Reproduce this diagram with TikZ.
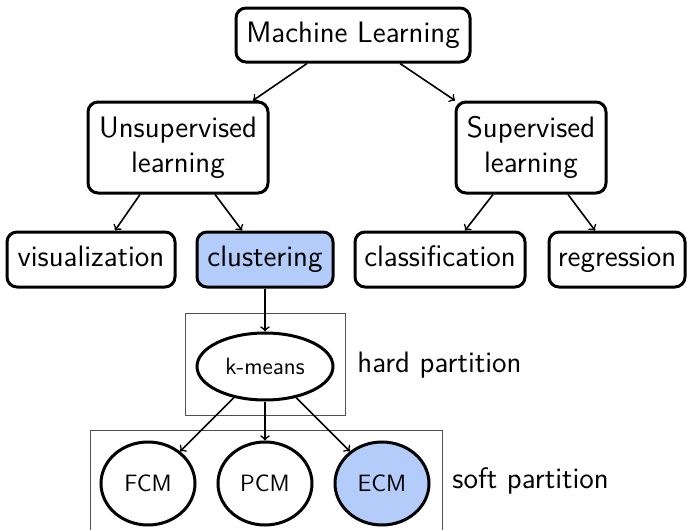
\documentclass[tikz,border=0pt]{standalone}
\usepackage{tikz}
\usetikzlibrary{shapes.geometric,calc}
\definecolor{hlblue}{RGB}{180,204,250}
\definecolor{framegray}{RGB}{80,80,80}
\begin{document}
\begin{tikzpicture}[x=0.5pt,y=-0.5pt,
  every node/.style={font=\sffamily\fontsize{14.8}{17.5}\selectfont},
  box/.style={draw, line width=1.5pt, rounded corners=5pt, align=center, inner sep=0pt},
  oneline/.style={text height=12pt, text depth=5pt},
  oval/.style={draw, ellipse, line width=1.5pt, inner sep=0pt,
    font=\sffamily\fontsize{11.8}{13}\selectfont},
  link/.style={->, line width=0.8pt},
  frame/.style={draw=framegray, line width=0.5pt},
  lbl/.style={anchor=base west, inner sep=0pt}]
\useasboundingbox (0,0) rectangle (687,530);

% grouping frames
\draw[frame] (185,313) rectangle (345,415);
\begin{scope}
  \clip (0,0) rectangle (687,530);
  \draw[frame] (90,430) rectangle (442,560);
\end{scope}

% tree of methods
\node[box, oneline, minimum width=117pt, minimum height=27pt] (ml) at (353,35) {Machine Learning};
\node[box, minimum width=90pt, minimum height=45.5pt] (unsup) at (178,147.5) {Unsupervised\\learning};
\node[box, minimum width=75pt, minimum height=45.5pt] (sup) at (531,147.5) {Supervised\\learning};
\node[box, oneline, minimum width=84pt, minimum height=27.5pt] (vis) at (91,259.5) {visualization};
\node[box, oneline, fill=hlblue, minimum width=68pt, minimum height=27.5pt] (clust) at (265,259.5) {clustering};
\node[box, oneline, minimum width=85pt, minimum height=27.5pt] (class) at (440,259.5) {classification};
\node[box, oneline, minimum width=68pt, minimum height=27.5pt] (reg) at (617,259.5) {regression};

\node[oval, minimum width=68pt, minimum height=33.5pt] (km) at (265,366.5) {k-means};
\node[oval, minimum width=47pt, minimum height=41.5pt] (fcm) at (148,483.5) {FCM};
\node[oval, minimum width=47pt, minimum height=41.5pt] (pcm) at (265,483.5) {PCM};
\node[oval, fill=hlblue, minimum width=47pt, minimum height=41.5pt] (ecm) at (382,483.5) {ECM};

\node[lbl] (hard) at (357,372) {hard\ partition};
\node[lbl] (soft) at (452,488) {soft\ partition};

% connectors
\draw[link] ($(ml.south)+(-46,0)$) -- ($(unsup.north)+(75,0)$);
\draw[link] ($(ml.south)+(47,0)$) -- ($(sup.north)+(-76,0)$);
\draw[link] ($(unsup.south)+(-38,0)$) -- ($(vis.north)+(24,0)$);
\draw[link] ($(unsup.south)+(37,0)$) -- ($(clust.north)+(-23,0)$);
\draw[link] ($(sup.south)+(-38,0)$) -- ($(class.north)+(25,0)$);
\draw[link] ($(sup.south)+(37,0)$) -- ($(reg.north)+(-22,0)$);
\draw[link] (clust.south) -- (km.north);
\draw[link] (km) -- (fcm);
\draw[link] (km.south) -- (pcm.north);
\draw[link] (km) -- (ecm);
\end{tikzpicture}
\end{document}
